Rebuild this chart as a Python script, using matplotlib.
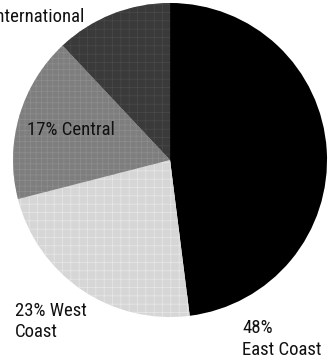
# Kreisdiagramm: Umsatzanteile nach Region
import matplotlib.pyplot as plt

plt.rcParams['font.family'] = ['Roboto Condensed', 'Liberation Sans Narrow', 'Roboto', 'DejaVu Sans']
plt.rcParams['font.stretch'] = 'condensed'
plt.rcParams['hatch.linewidth'] = 0.5

# Daten
regions = ['East Coast', 'West Coast', 'Central', 'International']
shares = [48, 23, 17, 12]
labels = ['48%\nEast Coast', '23% West\nCoast', '17% Central', '12% International']

# Darstellung
colors = ['#000000', '#d6d6d6', '#7e7e7e', '#3a3a3a']
hatch_colors = ['#000000', '#e8e8e8', '#8e8e8e', '#4a4a4a']
hatches = [None, '++', '+++', '++']
label_pos = [(0.46, -1.14, 'left'), (-0.99, -1.03, 'left'),
             (-0.91, 0.19, 'left'), (-0.545, 0.91, 'right')]

fig = plt.figure(figsize=(3.33, 3.58), dpi=100)
ax = fig.add_axes([0, 0, 1, 1])
wedges, _ = ax.pie(shares, colors=colors, startangle=90, counterclock=False,
                   radius=1.0, wedgeprops=dict(linewidth=0))
for w, h, hc in zip(wedges, hatches, hatch_colors):
    if h:
        w.set_hatch(h)
        w.set_edgecolor(hc)
        w.set_linewidth(0)

for lab, (x, y, ha) in zip(labels, label_pos):
    ax.text(x, y, lab, ha=ha, va='center', fontsize=13.5, color='#111111',
            linespacing=1.25)

ax.set_xlim(-1.083, 1.038)
ax.set_ylim(-1.261, 1.019)
ax.set_aspect('auto')
ax.axis('off')
fig.savefig('out.png', dpi=100)
